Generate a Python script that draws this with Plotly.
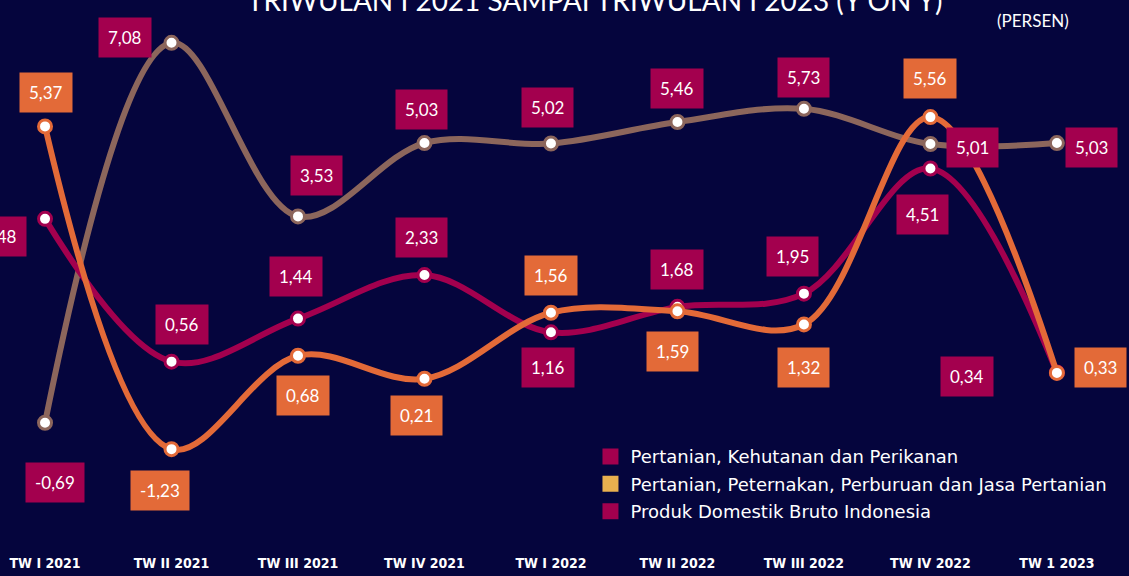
import plotly.graph_objects as go

categories = ["TW I 2021", "TW II 2021", "TW III 2021", "TW IV 2021", "TW I 2022",
              "TW II 2022", "TW III 2022", "TW IV 2022", "TW 1 2023"]
pertanian_kehutanan = [3.48, 0.56, 1.44, 2.33, 1.16, 1.68, 1.95, 4.51, 0.34]
pertanian_peternakan = [5.37, -1.23, 0.68, 0.21, 1.56, 1.59, 1.32, 5.56, 0.33]
pdb_indonesia = [-0.69, 7.08, 3.53, 5.03, 5.02, 5.46, 5.73, 5.01, 5.03]

legend_names = ["Pertanian, Kehutanan dan Perikanan",
                "Pertanian, Peternakan, Perburuan dan Jasa Pertanian",
                "Produk Domestik Bruto Indonesia"]

BG = "#05053d"
CRIMSON = "#a3004e"
ORANGE = "#e36a38"
BROWN = "#8c665c"
LEG_YELLOW = "#e9b04f"
LABEL_FONT = "Lato, Open Sans, sans-serif"

# label offsets (pixels, dx right / dy down) relative to each point
off_kehutanan = [(-45, 18), (10, -37), (-2, -42), (-3, -38), (-3, 35), (0, -37), (-11, -37), (-8, 46), (-90, 4)]
off_peternakan = [(1, -34), (-12, 41), (5, 40), (-8, 37), (0, -37), (-5, 40), (0, 43), (0, -39), (44, -5)]
off_pdb = [(10, 60), (-47, -5), (18, -41), (-3, -34), (-3, -36), (0, -34), (0, -31), (42, 3), (35, 4)]

fig = go.Figure()

series = [
    (pdb_indonesia, BROWN, CRIMSON, off_pdb),
    (pertanian_kehutanan, CRIMSON, CRIMSON, off_kehutanan),
    (pertanian_peternakan, ORANGE, ORANGE, off_peternakan),
]

for vals, lc, bc, offs in series:
    fig.add_trace(go.Scatter(
        x=categories, y=vals, mode="lines+markers",
        line=dict(color=lc, width=6, shape="spline", smoothing=1.0),
        marker=dict(size=13, color="white", line=dict(color=lc, width=3)),
        showlegend=False, hoverinfo="skip"))

annotations = []
for vals, lc, bc, offs in series:
    for i, v in enumerate(vals):
        dx, dy = offs[i]
        annotations.append(dict(
            x=categories[i], y=v, xref="x", yref="y",
            text=f"{v:.2f}".replace(".", ","), showarrow=False,
            xshift=dx, yshift=-dy,
            font=dict(family=LABEL_FONT, size=17, color="white"),
            bgcolor=bc, borderpad=9, xanchor="center", yanchor="middle"))

# legend entries
leg_colors = [CRIMSON, LEG_YELLOW, CRIMSON]
for i, (name, c) in enumerate(zip(legend_names, leg_colors)):
    fig.add_trace(go.Scatter(
        x=[None], y=[None], mode="markers", name=name, legendgroup=f"g{i}",
        marker=dict(symbol="square", size=17, color=c)))

annotations.append(dict(
    x=595 / 1129, y=1, xref="paper", yref="paper", yanchor="middle", xanchor="center",
    yshift=0, showarrow=False,
    text="TRIWULAN I 2021 SAMPAI TRIWULAN I 2023 (Y ON Y)",
    font=dict(family=LABEL_FONT, size=28, color="white")))
annotations.append(dict(
    x=1033 / 1129, y=1, xref="paper", yref="paper", yanchor="middle", xanchor="center",
    yshift=-20, showarrow=False, text="(PERSEN)",
    font=dict(family=LABEL_FONT, size=17, color="white")))

fig.update_layout(
    width=1129, height=576,
    paper_bgcolor=BG, plot_bgcolor=BG,
    margin=dict(l=0, r=0, t=0, b=35),
    xaxis=dict(range=[-0.356, 8.57], showgrid=False, zeroline=False, showline=False,
               ticks="", ticklabelstandoff=12,
               tickfont=dict(family="Liberation Sans Narrow, DejaVu Sans Condensed, Roboto",
                             size=14, color="white", weight="bold")),
    yaxis=dict(range=[-3.108, 7.955], showgrid=False, zeroline=False, showline=False,
               showticklabels=False),
    legend=dict(x=0.523, y=0.19, xanchor="left", yanchor="top",
                bgcolor="rgba(0,0,0,0)", tracegroupgap=1,
                font=dict(family="DejaVu Sans, sans-serif", size=18, color="white"),
                itemwidth=30),
    annotations=annotations,
    showlegend=True,
)

fig.write_html("out.html", config={"displayModeBar": False},
               post_script="document.body.style.margin='0';document.body.style.overflow='hidden';")
